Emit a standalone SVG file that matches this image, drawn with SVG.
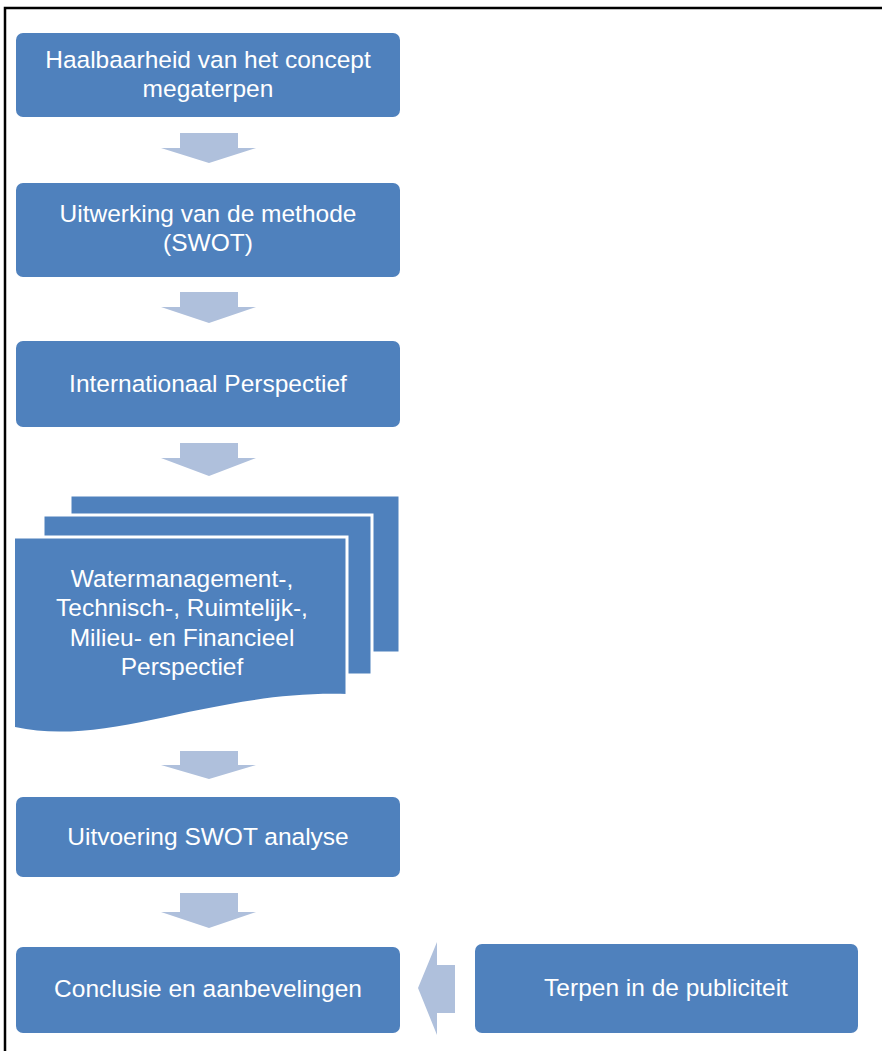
<svg xmlns="http://www.w3.org/2000/svg" width="882" height="1051" viewBox="0 0 882 1051">
<style>
.box{fill:#4F81BD;}
.page{fill:#4F81BD;stroke:#FFFFFF;stroke-width:3;}
.arr{fill:#AFC0DC;}
.t{font-family:"Liberation Sans",Arial,sans-serif;font-size:24.5px;fill:#FFFFFF;text-anchor:middle;}
</style>
<rect x="0" y="0" width="882" height="1051" fill="#FFFFFF"/>
<path d="M5,1051 V8 H882" fill="none" stroke="#000000" stroke-width="2.5"/>
<g id="connectors">
<polygon class="arr" points="180,133 238,133 238,148 256,148 209,163 161,148 180,148"/>
<polygon class="arr" points="180,292 238,292 238,307 256,307 209,323 161,307 180,307"/>
<polygon class="arr" points="180,443 238,443 238,458 256,458 209,476 161,458 180,458"/>
<polygon class="arr" points="180,751 238,751 238,765 256,765 209,779 161,765 180,765"/>
<polygon class="arr" points="180,893 238,893 238,912 256,912 209,928 161,912 180,912"/>
<polygon class="arr" points="455,965 455,1013 437,1013 437,1035 418,988 437,942 437,965"/>
</g>
<g id="node1">
<rect class="box" x="16" y="33" width="384" height="84" rx="7"/>
<text class="t" x="208" y="68">Haalbaarheid van het concept</text>
<text class="t" x="208" y="97">megaterpen</text>
</g>
<g id="node2">
<rect class="box" x="16" y="183" width="384" height="94" rx="7"/>
<text class="t" x="208" y="222">Uitwerking van de methode</text>
<text class="t" x="208" y="251">(SWOT)</text>
</g>
<g id="node3">
<rect class="box" x="16" y="341" width="384" height="86" rx="7"/>
<text class="t" x="208" y="392">Internationaal Perspectief</text>
</g>
<g id="node4">
<rect class="page" x="70" y="495" width="330" height="158"/>
<rect class="page" x="43" y="515" width="329" height="160"/>
<path class="box" d="M15,537 H347 V694 C210,690 110,748 15,727 Z"/>
<path d="M15,537 H347 V694" fill="none" stroke="#FFFFFF" stroke-width="3"/>
<text class="t" x="182" y="587">Watermanagement-,</text>
<text class="t" x="182" y="616">Technisch-, Ruimtelijk-,</text>
<text class="t" x="182" y="646">Milieu- en Financieel</text>
<text class="t" x="182" y="675">Perspectief</text>
</g>
<g id="node5">
<rect class="box" x="16" y="797" width="384" height="80" rx="7"/>
<text class="t" x="208" y="845">Uitvoering SWOT analyse</text>
</g>
<g id="node6">
<rect class="box" x="16" y="947" width="384" height="86" rx="7"/>
<text class="t" x="208" y="997">Conclusie en aanbevelingen</text>
</g>
<g id="node7">
<rect class="box" x="475" y="944" width="383" height="89" rx="7"/>
<text class="t" x="666" y="996">Terpen in de publiciteit</text>
</g>
</svg>
